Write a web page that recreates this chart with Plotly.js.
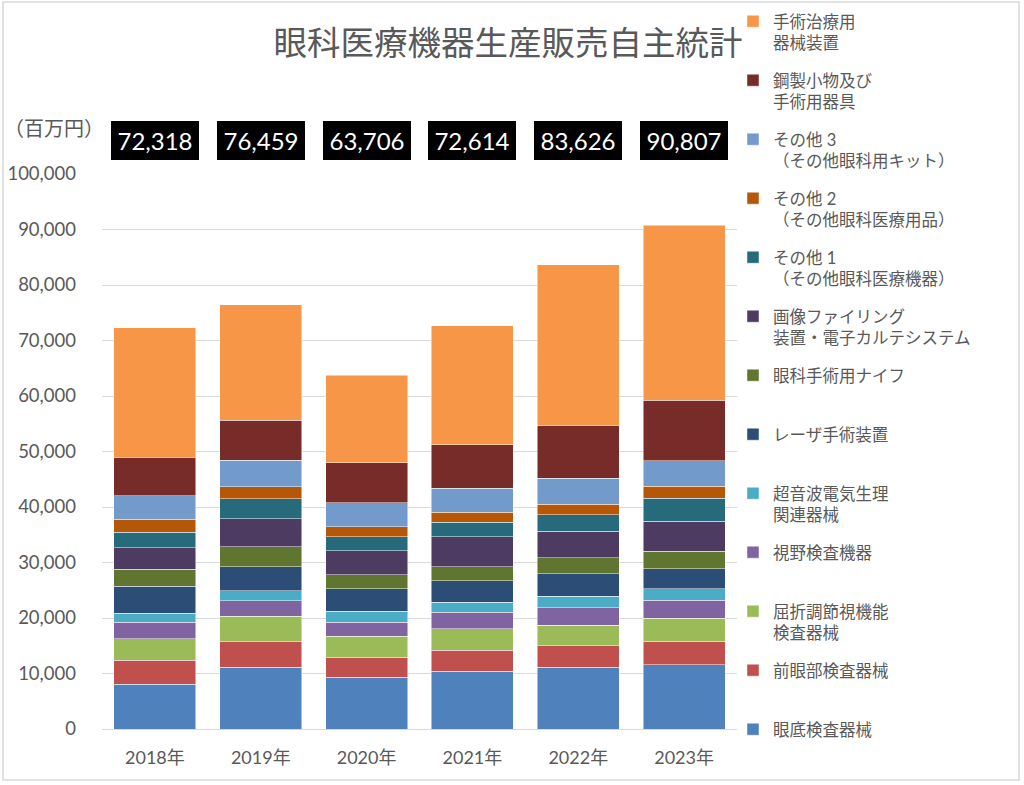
<!DOCTYPE html>
<html>
<head>
<meta charset="utf-8">
<script src="https://cdn.plot.ly/plotly-3.0.1.min.js"></script>
<style>html,body{margin:0;padding:0;background:#fff;}#chart{width:1024px;height:785px;}</style>
</head>
<body>
<div id="chart"></div>
<script>
const years = ['2018年', '2019年', '2020年', '2021年', '2022年', '2023年'];
const totals = [72318, 76459, 63706, 72614, 83626, 90807];

// series, bottom to top (百万円)
const fundus      = [8100, 11100, 9300, 10400, 11100, 11600];
const anterior    = [4300, 4600, 3600, 3800, 3900, 4200];
const refraction  = [3900, 4600, 3850, 3850, 3650, 4150];
const visualField = [2950, 2800, 2450, 2950, 3200, 3250];
const ultrasound  = [1650, 1850, 2000, 1850, 2050, 2100];
const laser       = [4800, 4300, 4100, 3900, 4050, 3600];
const knife       = [3100, 3600, 2500, 2500, 2950, 3100];
const imaging     = [3850, 5000, 4300, 5350, 4700, 5400];
const other1      = [2800, 3650, 2500, 2650, 3000, 4150];
const other2      = [2300, 2150, 1800, 1850, 1900, 2150];
const other3      = [4300, 4800, 4400, 4250, 4700, 4600];
const steel       = [6900, 7150, 7200, 7900, 9450, 10900];
const surgical    = [23368, 20859, 15706, 21364, 28976, 31607];

const seriesNames = [
  '眼底検査器械<br> ',
  '前眼部検査器械<br> ',
  '屈折調節視機能<br>検査器械',
  '視野検査機器<br> ',
  '超音波電気生理<br>関連器械',
  'レーザ手術装置<br> ',
  '眼科手術用ナイフ<br> ',
  '画像ファイリング<br>装置・電子カルテシステム',
  'その他 1<br>（その他眼科医療機器）',
  'その他 2<br>（その他眼科医療用品）',
  'その他 3<br>（その他眼科用キット）',
  '鋼製小物及び<br>手術用器具',
  '手術治療用<br>器械装置'
];
const seriesValues = [fundus, anterior, refraction, visualField, ultrasound, laser, knife, imaging, other1, other2, other3, steel, surgical];
const seriesColors = ['#4F81BD', '#C0504D', '#9BBB59', '#8064A2', '#4BACC6', '#2C4D75', '#5F7530', '#4D3B62', '#276A7C', '#B65708', '#729ACA', '#772C2A', '#F79646'];

const FONT = "Lato, 'Noto Sans CJK JP', sans-serif";
const GRAY = '#595959';

const traces = seriesValues.map((vals, i) => ({
  type: 'bar',
  x: years,
  y: vals,
  name: seriesNames[i],
  legendgroup: 'g' + i,
  legendrank: 1000 - i,
  marker: {color: seriesColors[i], line: {color: 'rgba(255,255,255,0.6)', width: 0.8}},
  hoverinfo: 'x+y+name'
}));

const annotations = years.map((yr, i) => ({
  x: yr, xref: 'x',
  y: 1.0595, yref: 'paper',
  text: totals[i].toLocaleString('en-US'),
  showarrow: false,
  bgcolor: '#000000',
  font: {family: FONT, size: 24, color: '#ffffff'},
  width: 88, height: 39,
  borderpad: 0, borderwidth: 0,
  xanchor: 'center', yanchor: 'middle'
}));
annotations.push({
  x: (2 - 102) / 635, xref: 'paper', xanchor: 'left',
  y: (729 - 128) / 555, yref: 'paper', yanchor: 'middle',
  text: '（百万円）', showarrow: false,
  font: {family: FONT, size: 20, color: GRAY}
});

const layout = {
  width: 1024, height: 785,
  margin: {l: 102, r: 287, t: 174, b: 56, autoexpand: false},
  paper_bgcolor: '#ffffff', plot_bgcolor: '#ffffff',
  barmode: 'stack',
  bargap: 0.225,
  font: {family: FONT, color: GRAY},
  title: {
    text: '眼科医療機器生産販売自主統計',
    font: {family: FONT, size: 33.5, color: GRAY},
    x: 508 / 1024, xref: 'container', xanchor: 'center',
    y: 1 - 43 / 785, yref: 'container', yanchor: 'middle'
  },
  xaxis: {
    type: 'category',
    showline: true, linecolor: '#D9D9D9', linewidth: 1,
    ticks: '', showgrid: false,
    tickfont: {family: FONT, size: 18, color: GRAY},
    ticklabelstandoff: 12
  },
  yaxis: {
    range: [0, 100000], dtick: 10000, tick0: 0,
    tickformat: ',d',
    showgrid: true, gridcolor: '#D9D9D9', gridwidth: 1,
    zeroline: false, showline: false, ticks: '',
    tickfont: {family: FONT, size: 18.5, color: GRAY},
    ticklabelstandoff: 25
  },
  legend: {
    xref: 'container', yref: 'container',
    x: 733 / 1024, xanchor: 'left',
    y: 1 - 4 / 785, yanchor: 'top',
    traceorder: 'grouped',
    tracegroupgap: 13.1,
    valign: 'top',
    font: {family: FONT, size: 16.5, color: GRAY},
    bgcolor: 'rgba(0,0,0,0)',
    maxheight: 785
  },
  annotations: annotations,
  shapes: [{
    type: 'rect', xref: 'paper', yref: 'paper',
    x0: (3 - 102) / 635, x1: (1019 - 102) / 635,
    y0: (729 - 780) / 555, y1: (729 - 2) / 555,
    line: {color: '#D9D9D9', width: 1.5}, fillcolor: 'rgba(0,0,0,0)', layer: 'below'
  }],
  showlegend: true
};

Plotly.newPlot('chart', traces, layout, {displayModeBar: false, staticPlot: true});
</script>
</body>
</html>
